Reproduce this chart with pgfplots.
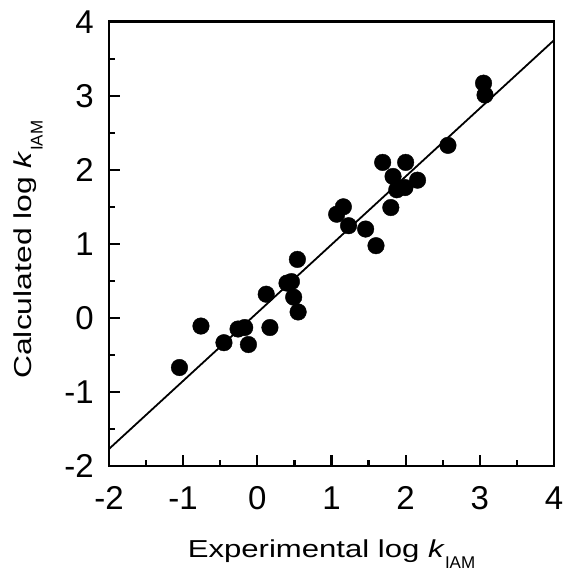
\documentclass[border=0pt]{standalone}
\usepackage{pgfplots}
\pgfplotsset{compat=1.18}
\usepackage{fontspec}
\setmainfont{Liberation Sans}
\usepackage{graphicx}
\begin{document}
\begin{tikzpicture}
\begin{axis}[
  scale only axis,
  width=445pt, height=444.3pt,
  xmin=-2, xmax=4, ymin=-2, ymax=4,
  axis line style={line width=2.6pt},
  xtick={-2,-1,0,1,2,3,4},
  ytick={-2,-1,0,1,2,3,4},
  xticklabels={-2,-1,0,1,2,3,4},
  yticklabels={-2,-1,0,1,2,3,4},
  minor tick num=1,
  tick align=inside,
  xtick pos=bottom, ytick pos=left,
  major tick length=11pt,
  minor tick length=6pt,
  every tick/.style={black, line width=2.2pt},
  tick label style={font=\fontsize{33}{38}\selectfont, inner sep=0pt},
  xticklabel style={anchor=north, yshift=-20.5pt},
  yticklabel style={anchor=east, xshift=-15pt},
  xlabel={\scalebox{1.27}[1]{\fontsize{24.5}{28}\selectfont Experimental log \textit{k}}\raisebox{-11pt}{\fontsize{17}{17}\selectfont IAM}},
  ylabel={\scalebox{1.3}[1]{\fontsize{24.5}{28}\selectfont Calculated log \textit{k}}\raisebox{-11pt}{\fontsize{17}{17}\selectfont IAM}},
  xlabel style={at={(axis description cs:0.5,-0.2055)}, anchor=base, inner sep=0pt},
  ylabel style={at={(axis description cs:-0.1737,0.487)}, anchor=base, rotate=0, inner sep=0pt},
]
\addplot[black, line width=1.8pt] coordinates {(-2,-1.77) (4,3.75)};
\addplot[only marks, mark=*, mark size=8.3pt, mark options={fill=black, draw=black}] coordinates {
(-1.05,-0.67)
(-0.76,-0.11)
(-0.45,-0.335)
(-0.26,-0.15)
(-0.17,-0.13)
(-0.12,-0.36)
(0.12,0.32)
(0.17,-0.13)
(0.40,0.47)
(0.46,0.49)
(0.49,0.28)
(0.54,0.79)
(0.55,0.08)
(1.07,1.40)
(1.16,1.50)
(1.23,1.245)
(1.46,1.20)
(1.60,0.975)
(1.69,2.10)
(1.80,1.49)
(1.83,1.91)
(1.88,1.73)
(1.99,1.76)
(2.00,2.10)
(2.16,1.86)
(2.57,2.33)
(3.05,3.17)
(3.07,3.01)
};
\end{axis}
\pgfresetboundingbox
\path[use as bounding box] ([shift={(-109pt,-106pt)}]current axis.south west) rectangle ([shift={(9pt,21.7pt)}]current axis.north east);
\end{tikzpicture}
\end{document}
